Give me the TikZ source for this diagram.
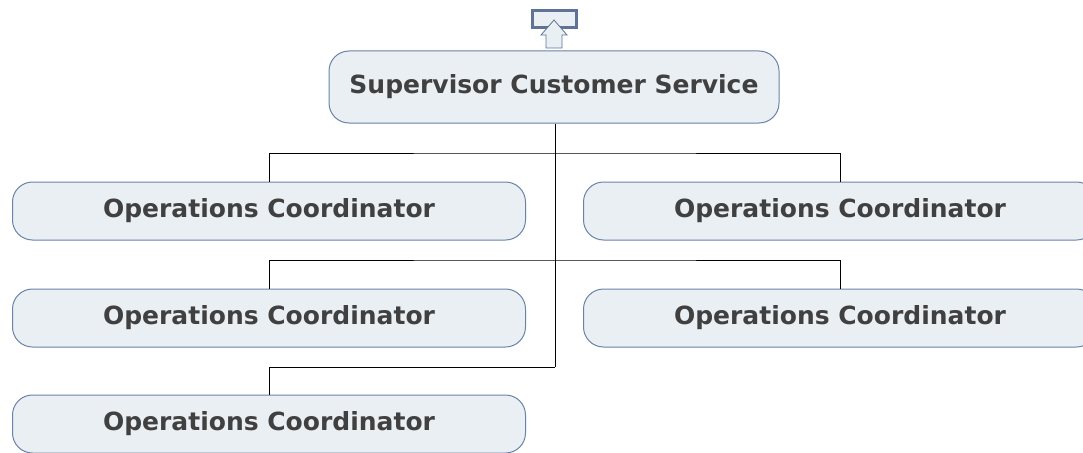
\documentclass[tikz,border=0pt]{standalone}
\usepackage{fontspec}
\setmainfont{DejaVu Sans}
\usepackage{tikz}
\usetikzlibrary{arrows}

\definecolor{boxfill}{HTML}{EAEFF3}
\definecolor{boxline}{HTML}{6A82A8}
\definecolor{iconline}{HTML}{5E7396}
\definecolor{textgray}{HTML}{404040}

\tikzset{
  role/.style = {draw = boxline, fill = boxfill, rounded corners = 20pt,
    line width = 1pt, minimum width = 513pt, minimum height = 58pt, inner sep = 0pt,
    text = textgray, font = \fontsize{25}{28}\selectfont\bfseries},
  link/.style = {draw = black, line width = 0.8pt}
}

\begin{document}
\begin{tikzpicture}[x = 1pt, y = -1pt]
\useasboundingbox (0,0) rectangle (1083,452);
\node [role, minimum width = 450pt, minimum height = 72pt] (sup) at (554,87) {\raisebox{3pt}{Supervisor Customer Service}};
\node [role] (op1) at (269,211) {Operations Coordinator};
\node [role] (op2) at (840,211) {Operations Coordinator};
\node [role] (op3) at (269,318) {Operations Coordinator};
\node [role] (op4) at (840,318) {Operations Coordinator};
\node [role] (op5) at (269,424) {Operations Coordinator};
% collapse icon
\node [draw = iconline, fill = boxfill, line width = 3pt, minimum width = 44pt, minimum height = 17pt, inner sep = 0pt] (icon) at (554,19) {};
\draw [draw = iconline, fill = boxfill, line width = 0.8pt] (546,48) -- (546,35) -- (541,35) -- (554,20) -- (567,35) -- (562,35) -- (562,48) -- cycle;
% tree lines
\coordinate (j1) at (555,153);
\coordinate (j2) at (555,260);
\coordinate (j3) at (555,367);
\draw [link] (sup.south -| j1) -- (j3);
\draw [link] (op1.north) |- (j1) -| (op2.north);
\draw [link] (op3.north) |- (j2) -| (op4.north);
\draw [link] (op5.north) |- (j3);
\end{tikzpicture}
\end{document}
